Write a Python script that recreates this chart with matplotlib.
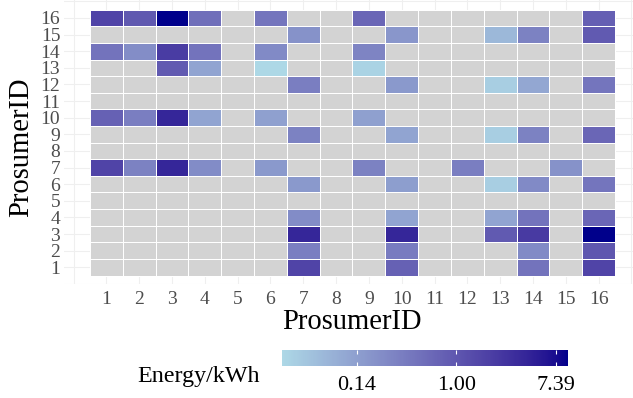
import numpy as np
import matplotlib
matplotlib.use('Agg')
import matplotlib.pyplot as plt
from matplotlib.colors import ListedColormap, LogNorm, to_rgb
from matplotlib.ticker import NullLocator

plt.rcParams['font.family'] = ['Liberation Serif', 'DejaVu Serif']

prosumers = list(range(1, 17))

# energy traded (kWh): x prosumer, y prosumer, value
trade_x = [1, 2, 3, 4, 6, 9, 16,
           7, 10, 13, 14, 16,
           1, 2, 3, 4, 6, 9,
           3, 4, 6, 9,
           7, 10, 13, 14, 16,
           1, 2, 3, 4, 6, 9,
           7, 10, 13, 14, 16,
           1, 2, 3, 4, 6, 9, 12, 15,
           7, 10, 13, 14, 16,
           7, 10, 13, 14, 16,
           7, 10, 13, 14, 16,
           7, 10, 14, 16,
           7, 10, 14, 16]
trade_y = [16] * 7 + [15] * 5 + [14] * 6 + [13] * 4 + [12] * 5 + [10] * 6 + [9] * 5 \
    + [7] * 8 + [6] * 5 + [4] * 5 + [3] * 5 + [2] * 4 + [1] * 4
trade_kwh = [1.7, 0.95, 9.5, 0.5, 0.43, 0.64, 0.8,
             0.19, 0.17, 0.07, 0.30, 0.9,
             0.45, 0.22, 2.2, 0.45, 0.24, 0.28,
             0.9, 0.12, 0.03, 0.035,
             0.34, 0.16, 0.04, 0.11, 0.43,
             0.76, 0.34, 4.0, 0.12, 0.13, 0.13,
             0.30, 0.12, 0.04, 0.30, 0.64,
             1.7, 0.30, 4.0, 0.23, 0.16, 0.30, 0.34, 0.19,
             0.16, 0.14, 0.04, 0.24, 0.43,
             0.23, 0.12, 0.12, 0.45, 0.64,
             4.0, 4.0, 0.9, 2.3, 9.5,
             0.34, 0.36, 0.24, 1.0,
             1.7, 0.76, 0.45, 1.7]

legend_ticks = [np.exp(-2), 1.0, np.exp(2)]


# lightblue -> darkblue gradient interpolated in CIELAB (like ggplot)
def to_lab(rgb):
    c = np.array(rgb)
    lin = np.where(c <= 0.04045, c / 12.92, ((c + 0.055) / 1.055) ** 2.4)
    m = np.array([[0.4124, 0.3576, 0.1805],
                  [0.2126, 0.7152, 0.0722],
                  [0.0193, 0.1192, 0.9505]])
    xyz = m @ lin / np.array([0.95047, 1.0, 1.08883])
    f = np.where(xyz > 0.008856, np.cbrt(xyz), 7.787 * xyz + 16 / 116)
    return np.array([116 * f[1] - 16, 500 * (f[0] - f[1]), 200 * (f[1] - f[2])])


def from_lab(lab):
    fy = (lab[0] + 16) / 116
    fx = fy + lab[1] / 500
    fz = fy - lab[2] / 200
    f = np.array([fx, fy, fz])
    xyz = np.where(f ** 3 > 0.008856, f ** 3, (f - 16 / 116) / 7.787)
    xyz = xyz * np.array([0.95047, 1.0, 1.08883])
    minv = np.array([[3.2406, -1.5372, -0.4986],
                     [-0.9689, 1.8758, 0.0415],
                     [0.0557, -0.2040, 1.0570]])
    lin = minv @ xyz
    c = np.where(lin <= 0.0031308, 12.92 * lin, 1.055 * np.abs(lin) ** (1 / 2.4) - 0.055)
    return np.clip(c, 0, 1)


lo = to_lab(to_rgb('#ADD8E6'))
hi = to_lab(to_rgb('#00008B'))
cmap = ListedColormap([from_lab(lo + t * (hi - lo)) for t in np.linspace(0, 1, 256)])
cmap.set_bad('#D3D3D3')

grid = np.full((16, 16), np.nan)
for x, y, v in zip(trade_x, trade_y, trade_kwh):
    grid[y - 1, x - 1] = v

fig = plt.figure(figsize=(6.33, 3.98), dpi=100)
ax = fig.add_axes([0.1007, 0.2867, 0.9123, 0.7224])
ax.set_axisbelow(True)

edges = np.arange(0.5, 17.5, 1)
mesh = ax.pcolormesh(edges, edges, np.ma.masked_invalid(grid), cmap=cmap,
                     norm=LogNorm(vmin=min(trade_kwh), vmax=max(trade_kwh)),
                     edgecolors='white', linewidth=0.7)

ax.set_xlim(-0.3, 17.3)
ax.set_ylim(0.45, 17.3)
ticks = list(range(0, 18))
labels = [''] + [str(p) for p in prosumers] + ['']
ax.set_xticks(ticks)
ax.set_xticklabels(labels)
ax.set_yticks(ticks)
ax.set_yticklabels(labels)
ax.grid(color='#EFEFEF', linewidth=0.8)
for s in ax.spines.values():
    s.set_visible(False)
ax.tick_params(axis='both', length=0, labelsize=14, labelcolor='#4D4D4D')
ax.tick_params(axis='x', pad=5)
ax.tick_params(axis='y', pad=2.5)

fig.text(352 / 633, 1 - 329 / 398, 'ProsumerID', ha='center', va='baseline', fontsize=20.6)
fig.text(21 / 633, 1 - 147 / 398, 'ProsumerID', ha='center', va='center',
         rotation=90, fontsize=20.6)

cax = fig.add_axes([282 / 633, 1 - 366 / 398, 286 / 633, 16 / 398])
cb = fig.colorbar(mesh, cax=cax, orientation='horizontal')
cb.outline.set_visible(False)
cb.set_ticks(legend_ticks)
cb.set_ticklabels(['%.2f' % t for t in legend_ticks])
cax.xaxis.set_minor_locator(NullLocator())
cax.tick_params(axis='x', which='major', direction='in', color='white', length=3,
                width=0.8, top=True, bottom=True, labelsize=16, pad=7)
fig.text(137 / 633, 1 - 382 / 398, 'Energy/kWh', ha='left', va='baseline', fontsize=17.3)

fig.savefig('out.png', dpi=100)
